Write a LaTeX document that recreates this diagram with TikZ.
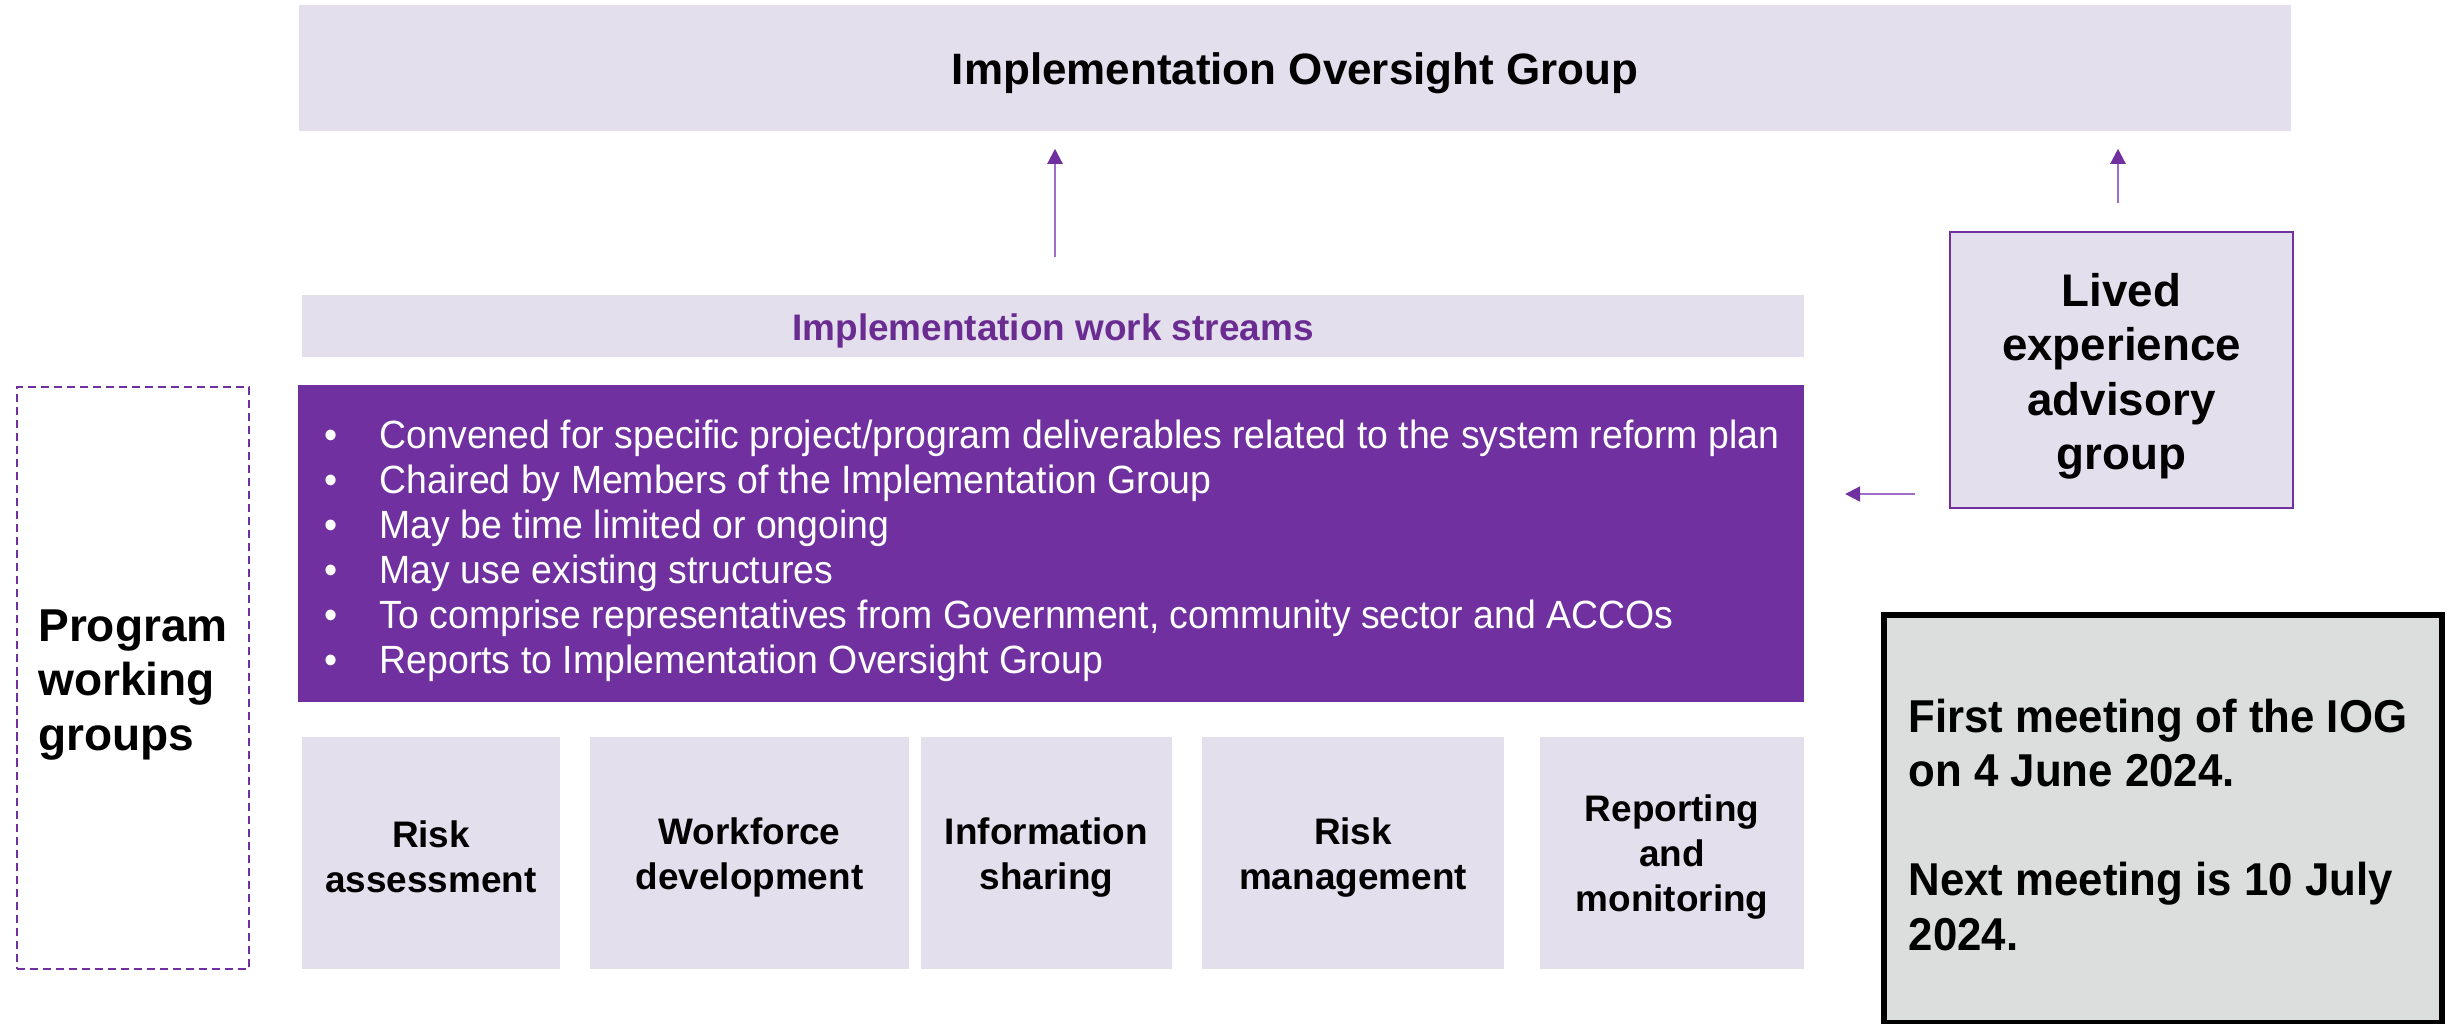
\documentclass[tikz,border=0pt]{standalone}
\usepackage{fontspec}
\setmainfont{Liberation Sans}
\newfontfamily\narrowfont[FakeStretch=0.95]{Liberation Sans}
\usetikzlibrary{arrows.meta}
\definecolor{iogpurple}{RGB}{112,48,160}
\definecolor{wspurple}{RGB}{106,44,145}
\definecolor{arrowpurple}{RGB}{160,110,200}
\definecolor{lavender}{RGB}{228,223,236}
\definecolor{notegray}{RGB}{220,221,221}
\newcommand\wsbullet{\makebox[0.55cm][l]{\textbullet}}

\begin{document}
\begin{tikzpicture}[x=0.01cm, y=-0.01cm,
		panel/.style={fill=lavender, inner sep=0pt, align=center, font=\fontsize{10.5}{12.8}\selectfont\bfseries},
		workbox/.style={panel, minimum height=2.32cm, text height=22.7pt},
		flow/.style={draw=arrowpurple, line width=0.6pt, -{Triangle[length=0.15cm, width=0.15cm, color=iogpurple]}}
	]
		\useasboundingbox (0,0) rectangle (2453,1023);

		\node[panel, minimum width=19.9cm, minimum height=1.26cm, text height=12pt, font=\fontsize{12.5}{15}\selectfont\bfseries] (iog) at (1295,68) {Implementation Oversight Group};

		\node[panel, minimum width=15.02cm, minimum height=0.62cm, text height=10.5pt, text=wspurple] (ws) at (1053,326) {Implementation work streams};

		\node[fill=iogpurple, minimum width=15.06cm, minimum height=3.17cm, inner sep=0pt] (scope) at (1051,543.5) {};
		\node[anchor=west, text=white, align=left, inner sep=0pt, font=\narrowfont\fontsize{11.2}{12.8}\selectfont] (points) at (324,551) {\wsbullet Convened for specific project/program deliverables related to the system reform plan\\
			\wsbullet Chaired by Members of the Implementation Group\\
			\wsbullet May be time limited or ongoing\\
			\wsbullet May use existing structures\\
			\wsbullet To comprise representatives from Government, community sector and ACCOs\\
			\wsbullet Reports to Implementation Oversight Group};

		\node[panel, draw=iogpurple, line width=0.6pt, minimum width=3.43cm, minimum height=2.76cm, text height=59.4pt, font=\fontsize{13}{15.5}\selectfont\bfseries] (lived) at (2121.5,370) {Lived\\experience\\advisory\\group};

		\node[draw=iogpurple, line width=0.6pt, dash pattern=on 2.3pt off 1.4pt, minimum width=2.32cm, minimum height=5.82cm, inner sep=0pt, align=left, text height=44.2pt, font=\fontsize{13.1}{15.6}\selectfont\bfseries] (pwg) at (133,678) {Program\\working\\groups};

		\node[workbox, minimum width=2.58cm] (riska) at (431,853) {Risk\\assessment};
		\node[workbox, minimum width=3.19cm] (workforce) at (749.5,853) {Workforce\\development};
		\node[workbox, minimum width=2.51cm] (info) at (1046.5,853) {Information\\sharing};
		\node[workbox, minimum width=3.02cm] (riskm) at (1353,853) {Risk\\management};
		\node[workbox, minimum width=2.64cm, text height=35.5pt] (report) at (1672,853) {Reporting\\and\\monitoring};

		\node[fill=notegray, draw=black, line width=1.7pt, minimum width=5.58cm, minimum height=4.08cm, inner sep=0pt] (note) at (2163,819) {};
		\node[anchor=west, align=left, inner sep=0pt, font=\narrowfont\fontsize{13.1}{15.5}\selectfont\bfseries] (notetext) at (1908,825) {First meeting of the IOG\\on 4 June 2024.\\[15.5pt]Next meeting is 10 July\\2024.};

		\coordinate (wstail) at (1055,257);
		\coordinate (livedtail) at (2118,203);
		\coordinate (advicetail) at (1915,494);

		\draw[flow, shorten >=0.17cm] (wstail) -- (wstail |- iog.south);
		\draw[flow, shorten >=0.17cm] (livedtail) -- (livedtail |- iog.south);
		\draw[flow, shorten >=0.4cm] (advicetail) -- (advicetail -| scope.east);
	\end{tikzpicture}
\end{document}
